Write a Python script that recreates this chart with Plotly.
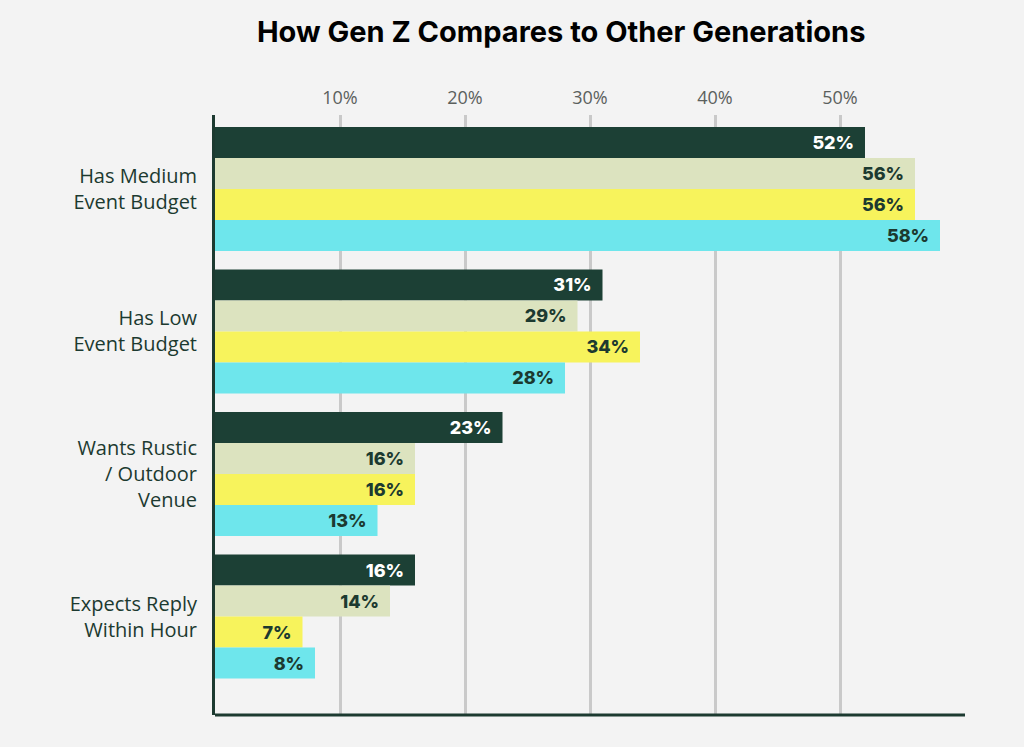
import plotly.graph_objects as go

categories = ["Has Medium<br>Event Budget", "Has Low<br>Event Budget",
              "Wants Rustic<br>/ Outdoor<br>Venue", "Expects Reply<br>Within Hour"]
series_names = ["Gen Z", "Millennials", "Gen X", "Baby Boomers"]
values = [
    [52, 31, 23, 16],
    [56, 29, 16, 14],
    [56, 34, 16, 7],
    [58, 28, 13, 8],
]
colors = ["#1c4035", "#dce3bf", "#f7f35c", "#6ee6ec"]
text_colors = ["#ffffff", "#1c3a30", "#1c3a30", "#1c3a30"]
tick_vals = [10, 20, 30, 40, 50]
tick_text = ["10%", "20%", "30%", "40%", "50%"]

fig = go.Figure()
for name, vals, col, tcol in zip(series_names, values, colors, text_colors):
    fig.add_trace(go.Bar(
        y=categories, x=vals, name=name, orientation="h",
        marker=dict(color=col, line=dict(width=0)),
        texttemplate="%{x}%\u00a0\u00a0",
        textposition="inside", insidetextanchor="end", textangle=0,
        insidetextfont=dict(family="Inter", size=18, color=tcol, weight=800),
        hoverinfo="skip",
    ))

fig.update_layout(
    width=1024, height=747,
    paper_bgcolor="#f3f3f3", plot_bgcolor="#f3f3f3",
    barmode="group", bargap=0.13, bargroupgap=0,
    showlegend=False,
    margin=dict(l=215, r=59, t=115, b=32),
    title=dict(text="<b>How Gen Z Compares to Other Generations</b>",
               x=0.548, xanchor="center", y=0.958, yanchor="middle",
               font=dict(family="Inter", size=29, color="#000000", weight=900)),
    xaxis=dict(side="top", range=[0, 60], tickvals=tick_vals, ticktext=tick_text,
               showgrid=True, gridcolor="#c9c9c9", gridwidth=3,
               zeroline=False, showline=False, ticks="", ticklabelstandoff=6,
               tickfont=dict(family="Open Sans", size=18, color="#5b605d")),
    yaxis=dict(range=[3.691, -0.519], showgrid=False, zeroline=False,
               showline=True, linecolor="#1c3a30", linewidth=3,
               ticks="", ticklabelstandoff=11,
               tickfont=dict(family="Open Sans", size=20, color="#1c3a30")),
    shapes=[dict(type="line", xref="x", yref="paper", x0=0, x1=60, y0=0, y1=0,
                 line=dict(color="#1c3a30", width=3))],
)

fig.write_html("out.html", config={"displayModeBar": False}, post_script=(
    "document.body.style.margin='0px';"
    "document.body.style.background='#f3f3f3';"))
